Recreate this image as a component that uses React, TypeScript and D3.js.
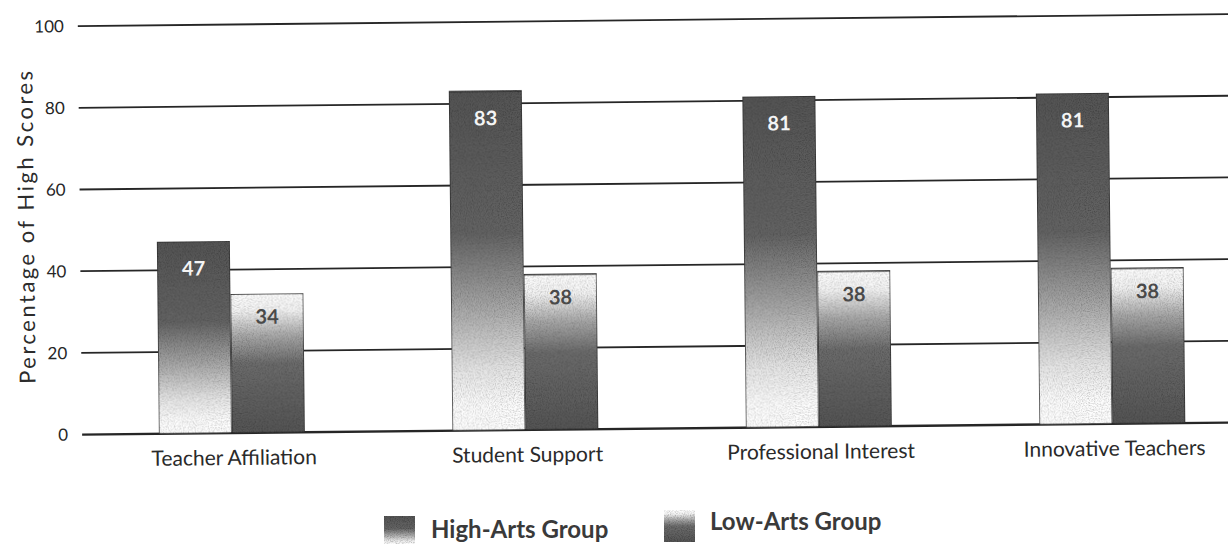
import React from "react";
import * as d3 from "d3";

// Share of students with high scores, by arts-involvement group
const categories = ["Teacher Affiliation", "Student Support", "Professional Interest", "Innovative Teachers"];
const highArts = [47, 83, 81, 81];
const lowArts = [34, 38, 38, 38];
const yTicks = [0, 20, 40, 60, 80, 100];
const groups = ["High-Arts Group", "Low-Arts Group"];

const W = 1228;
const H = 544;
const FONT = "Lato, 'Open Sans', sans-serif";

export default function App() {
  const x = d3.scaleBand<string>().domain(categories).range([83, 1257]).paddingInner(0);
  const inner = d3.scaleBand<string>().domain(groups).range([0, 146]);
  const y = d3.scaleLinear().domain([0, 100]).range([429, 20.5]);
  const barW = inner.bandwidth();

  const series = [highArts, lowArts];

  return (
    <svg width={W} height={H} style={{ display: "block", position: "absolute", left: 0, top: 0, background: "#fff" }}>
      <defs>
        <linearGradient id="gHigh" x1="0" y1="0" x2="0" y2="1">
          <stop offset="0" stopColor="#555" />
          <stop offset="0.42" stopColor="#646464" />
          <stop offset="0.64" stopColor="#a8a8a8" />
          <stop offset="0.82" stopColor="#e6e6e6" />
          <stop offset="0.93" stopColor="#fdfdfd" />
          <stop offset="1" stopColor="#fff" />
        </linearGradient>
        <linearGradient id="gLow" x1="0" y1="0" x2="0" y2="1">
          <stop offset="0" stopColor="#ffffff" />
          <stop offset="0.12" stopColor="#f4f4f4" />
          <stop offset="0.3" stopColor="#a9a9a9" />
          <stop offset="0.5" stopColor="#6c6c6c" />
          <stop offset="1" stopColor="#555" />
        </linearGradient>
        <filter id="grain" x="0" y="0" width="100%" height="100%">
          <feTurbulence type="fractalNoise" baseFrequency="0.85" numOctaves="2" seed="3" result="n" />
          <feColorMatrix in="n" type="matrix"
            values="0 0 0 0 0  0 0 0 0 0  0 0 0 0 0  0 0 0 -1.0 0.6" result="a" />
          <feComposite in="a" in2="SourceGraphic" operator="in" result="speck" />
          <feMerge>
            <feMergeNode in="SourceGraphic" />
            <feMergeNode in="speck" />
          </feMerge>
        </filter>
      </defs>
      <g transform={`rotate(-0.6 614 230)`}>
        {yTicks.map((t) => (
          <g key={t}>
            <line x1={80} x2={1260} y1={y(t)} y2={y(t)} stroke="#262626" strokeWidth={t === 0 ? 2.4 : 1.8} />
            <text x={66} y={y(t) + 6} textAnchor="end" fontFamily={FONT} fontSize={17} fill="#262626">
              {t}
            </text>
          </g>
        ))}
        <text
          transform={`translate(34 220) rotate(-90)`}
          textAnchor="middle"
          fontFamily={FONT}
          fontSize={22}
          letterSpacing={2.5}
          fill="#2c2c2c"
        >
          Percentage of High Scores
        </text>

        {categories.map((c, i) => (
          <g key={c} transform={`translate(${x(c)! + (x.bandwidth() - 146) / 2},0)`}>
            {groups.map((g, k) => {
              const v = series[k][i];
              const bx = inner(g)!;
              const top = y(v);
              return (
                <g key={g}>
                  <rect
                    x={bx}
                    y={top}
                    width={barW}
                    height={y(0) - top}
                    fill={k === 0 ? "url(#gHigh)" : "url(#gLow)"}
                    stroke="#333"
                    strokeWidth={1.5}
                    filter="url(#grain)"
                  />
                  <text
                    x={bx + barW / 2}
                    y={top + (k === 0 ? 34 : 30)}
                    textAnchor="middle"
                    fontFamily={FONT}
                    fontWeight={700}
                    fontSize={20}
                    fill={k === 0 ? "#f4f4f4" : "#4a4a4a"}
                  >
                    {v}
                  </text>
                </g>
              );
            })}
            <text x={75} y={y(0) + 32} textAnchor="middle" fontFamily={FONT} fontSize={21} fill="#2a2a2a">
              {c}
            </text>
          </g>
        ))}
      </g>

      {/* legend */}
      <g>
        <rect x={384} y={516} width={31} height={30} fill="url(#gHigh)" filter="url(#grain)" />
        <text x={431} y={538} fontFamily={FONT} fontWeight={700} fontSize={24} fill="#3a3a3a">
          {groups[0]}
        </text>
        <rect x={664} y={510} width={31} height={32} fill="url(#gLow)" filter="url(#grain)" />
        <text x={710} y={530} fontFamily={FONT} fontWeight={700} fontSize={24} fill="#3a3a3a">
          {groups[1]}
        </text>
      </g>
    </svg>
  );
}
